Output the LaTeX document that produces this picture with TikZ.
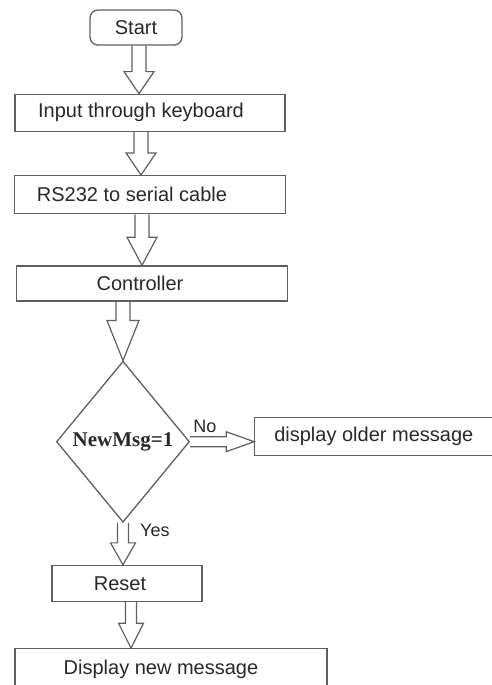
\documentclass[tikz,border=0pt]{standalone}
\usepackage{fontspec}
\setmainfont{Liberation Sans}
\newfontfamily\msgfont{Liberation Serif}
\usepackage{tikz}
\usetikzlibrary{shapes,shapes.geometric,positioning,calc}
\definecolor{inkline}{RGB}{95, 95, 95}
\definecolor{inktext}{RGB}{40, 40, 40}
\tikzstyle{startbox} = [rectangle, rounded corners=8pt, draw=inkline, line width=1.3pt, text=inktext, text centered, font=\fontsize{20}{24}\selectfont, minimum width=92pt, minimum height=35pt, inner sep=0pt]
\tikzstyle{proc} = [rectangle, draw=inkline, line width=1.3pt, text=inktext, text centered, font=\fontsize{20}{24}\selectfont, inner sep=0pt]
\tikzstyle{decision} = [diamond, draw=inkline, line width=1.3pt, text=inktext, font=\msgfont\bfseries\fontsize{21}{24}\selectfont, minimum width=133pt, minimum height=161pt, inner sep=0pt]
\tikzstyle{textonly} = [draw=none, fill=none, text=inktext, inner sep=0pt, font=\fontsize{18}{21}\selectfont]
\tikzset{
  tshift/.style={execute at begin node={\hspace*{#1}}},
  barrow/.style n args={3}{draw=inkline, line width=1.2pt, line join=miter, to path={
    ($(\tikztostart)!#1!90:(\tikztotarget)$)
    -- ($(\tikztotarget)!#3!(\tikztostart)!#1!90:(\tikztotarget)$)
    -- ($(\tikztotarget)!#3!(\tikztostart)!#2!90:(\tikztotarget)$)
    -- (\tikztotarget)
    -- ($(\tikztotarget)!#3!(\tikztostart)!#2!-90:(\tikztotarget)$)
    -- ($(\tikztotarget)!#3!(\tikztostart)!#1!-90:(\tikztotarget)$)
    -- ($(\tikztostart)!#1!-90:(\tikztotarget)$)
  }}
}

\begin{document}
\begin{tikzpicture}[auto]
\useasboundingbox (0,0) rectangle (492pt,-685pt);

% steps =============================

\node[startbox] (start) at (136pt,-27.5pt) {Start};
\node[proc, tshift=-18pt, minimum width=270pt, minimum height=37pt, below=48pt of start, xshift=14pt] (keyboard) {Input through keyboard};
\node[proc, tshift=-36pt, minimum width=271pt, minimum height=38pt, below=43pt of keyboard] (serial) {RS232 to serial cable};
\node[proc, tshift=-24pt, minimum width=271pt, minimum height=35pt, below=51pt of serial, xshift=2pt] (controller) {Controller};

% decision
\node[decision, below=59pt of controller, xshift=-29pt] (newmsg) {NewMsg=1};
\node[proc, minimum width=238pt, minimum height=38pt, right=64pt of newmsg, yshift=5pt] (oldmsg) {display older message};
\node[textonly, above right=9pt and 3pt of newmsg.east] (no) {No};
\node[textonly, below right=1pt and 17pt of newmsg.south] (yes) {Yes};

\node[proc, tshift=-14pt, minimum width=150pt, minimum height=36pt, below=42pt of newmsg, xshift=4pt] (reset) {Reset};
\node[proc, tshift=-20pt, minimum width=312pt, minimum height=41pt, below=46pt of reset, xshift=44pt] (newdisp) {Display new message};

%edges
\path[barrow={7pt}{15pt}{22pt}] ([xshift=3pt]start.south) to ([xshift=3pt]start.south |- keyboard.north);
\path[barrow={7pt}{15pt}{22pt}] ([xshift=-9pt]keyboard.south) to ([xshift=-9pt]keyboard.south |- serial.north);
\path[barrow={7pt}{15pt}{28pt}] ([xshift=-8pt]serial.south) to ([xshift=-8pt]serial.south |- controller.north);
\path[barrow={7pt}{16pt}{40pt}] (controller.south -| newmsg.north) to (newmsg.north);
\path[barrow={5pt}{10pt}{28pt}] (newmsg.east) to (newmsg.east -| oldmsg.west);
\path[barrow={5.5pt}{12.5pt}{22pt}] (newmsg.south) to (newmsg.south |- reset.north);
\path[barrow={5.5pt}{12.5pt}{25pt}] ([xshift=4pt]reset.south) to ([xshift=4pt]reset.south |- newdisp.north);

\end{tikzpicture}
\end{document}
